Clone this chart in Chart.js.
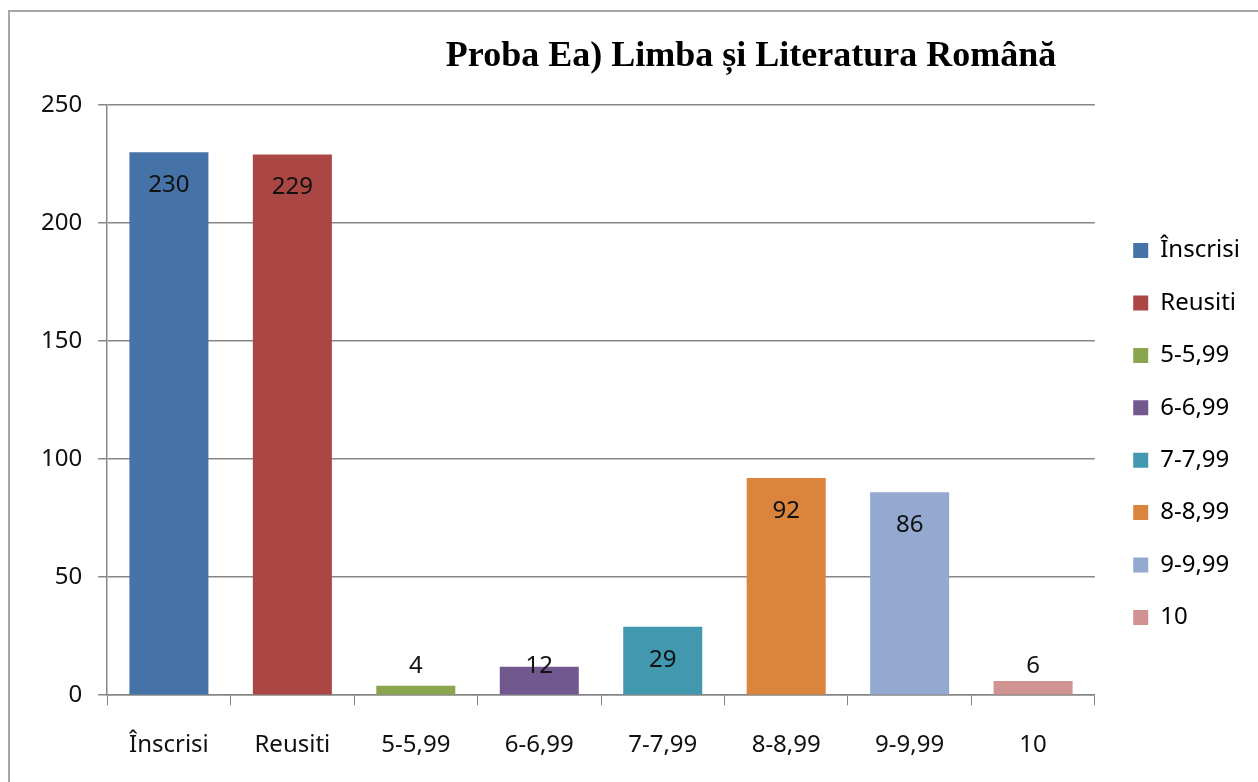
<!DOCTYPE html>
<html>
<head>
<meta charset="utf-8">
<script src="https://cdn.jsdelivr.net/npm/chart.js@4"></script>
<style>
  html, body { margin: 0; padding: 0; background: #fff; }
  #wrap { width: 1258px; height: 782px; }
</style>
</head>
<body>
<div id="wrap"><canvas id="chart" width="1258" height="782"></canvas></div>
<script>
const categories = ["Înscrisi", "Reusiti", "5-5,99", "6-6,99", "7-7,99", "8-8,99", "9-9,99", "10"];
const counts = [230, 229, 4, 12, 29, 92, 86, 6];
const colors = ["#4572A7", "#AA4643", "#89A54E", "#71588F", "#4198AF", "#DB843D", "#93A9CF", "#D19392"];
const yTicks = [0, 50, 100, 150, 200, 250];

const FONT = "'Noto Sans', sans-serif";

// frame + title drawn around the plot
const framePlugin = {
  id: "frame",
  afterLayout(chart) {
    // nudge the legend a bit right/up like the Excel original
    const lg = chart.legend;
    lg.left += 10; lg.right += 10;
    lg.top -= 11.5; lg.bottom -= 11.5;
  },
  beforeDraw(chart) {
    const ctx = chart.ctx;
    ctx.save();
    ctx.fillStyle = "#fff";
    ctx.fillRect(0, 0, chart.width, chart.height);
    ctx.strokeStyle = "#a6a6a6";
    ctx.lineWidth = 2;
    ctx.beginPath();
    ctx.moveTo(9, chart.height + 5);
    ctx.lineTo(9, 11);
    ctx.lineTo(chart.width + 5, 11);
    ctx.stroke();
    ctx.restore();
  },
  afterDraw(chart) {
    const ctx = chart.ctx;
    ctx.save();
    ctx.fillStyle = "#000";
    ctx.font = "bold 36px 'Liberation Serif', serif";
    ctx.textAlign = "center";
    ctx.textBaseline = "middle";
    ctx.fillText("Proba Ea) Limba și Literatura Română", 751, 57);
    ctx.restore();
  }
};

// value labels, Excel "inside end" style
const valueLabels = {
  id: "valueLabels",
  afterDatasetsDraw(chart) {
    const ctx = chart.ctx;
    const meta = chart.getDatasetMeta(0);
    const zeroY = chart.scales.y.getPixelForValue(0);
    ctx.save();
    ctx.fillStyle = "#111";
    ctx.font = "24px " + FONT;
    ctx.textAlign = "center";
    ctx.textBaseline = "middle";
    meta.data.forEach((bar, i) => {
      const y = Math.min(bar.y + 33, zeroY - 29);
      ctx.fillText(String(counts[i]), bar.x, y);
    });
    ctx.restore();
  }
};

new Chart(document.getElementById("chart"), {
  type: "bar",
  data: {
    labels: categories,
    datasets: [{
      data: counts,
      backgroundColor: colors,
      borderWidth: 0,
      barPercentage: 0.64,
      categoryPercentage: 1
    }]
  },
  options: {
    responsive: false,
    animation: false,
    layout: { padding: { left: 25, top: 105, right: 18, bottom: -4 } },
    plugins: {
      title: { display: false },
      tooltip: { enabled: false },
      legend: {
        position: "right",
        labels: {
          font: { family: FONT, size: 24 },
          color: "#111",
          boxWidth: 15,
          boxHeight: 15,
          padding: 28.4,
          generateLabels: () => categories.map((c, i) => ({
            text: c, fillStyle: colors[i], strokeStyle: colors[i], lineWidth: 0, index: i
          }))
        }
      }
    },
    scales: {
      x: {
        grid: { display: true, drawOnChartArea: false, offset: true, tickLength: 10, color: "#868686" },
        border: { color: "#868686", width: 1.5 },
        ticks: { font: { family: FONT, size: 24 }, color: "#111", padding: 26 }
      },
      y: {
        min: 0, max: 250,
        afterBuildTicks: (axis) => { axis.ticks = yTicks.map(v => ({ value: v })); },
        grid: { color: "#868686", lineWidth: 1.5, tickLength: 9 },
        border: { color: "#868686", width: 1.5 },
        ticks: { font: { family: FONT, size: 24 }, color: "#111", padding: 16 }
      }
    }
  },
  plugins: [framePlugin, valueLabels]
});
</script>
</body>
</html>
